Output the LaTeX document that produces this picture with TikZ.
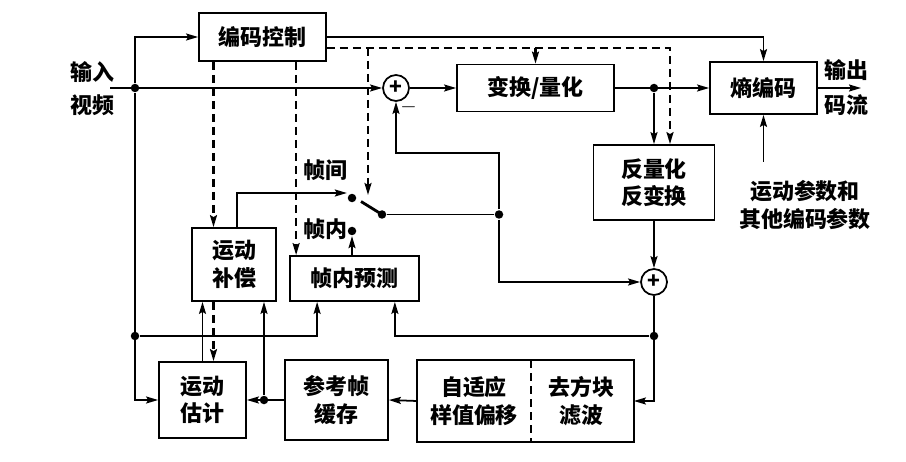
\documentclass[tikz,border=0pt]{standalone}
\usepackage{fontspec}
\setmainfont{Noto Sans CJK SC}
\usetikzlibrary{arrows.meta}

\begin{document}
\begin{tikzpicture}
        [box/.style={rectangle,draw,line width=1pt,inner sep=0pt,align=center},
        boxPlain/.style={rectangle,inner sep=0pt,align=center},
        sumNode/.style={circle,draw,line width=1pt,inner sep=0pt,minimum size=0.52cm,font=\fontsize{12}{12}\selectfont\bfseries},
        dotNode/.style={circle,fill,inner sep=0pt,minimum size=0.17cm},
        ctrlLine/.style={dash pattern=on 1.6mm off 1mm, line width=1.2pt},
        txt/.style={align=center},
        line width=1pt,
        >={Stealth[length=2.4mm,width=1.4mm,inset=0.4mm]},
        font=\fontsize{12.5}{15.5}\selectfont\bfseries]
        \useasboundingbox (0,0) rectangle (18.12,-9.24);

        % blocks
        \node[box, minimum width=2.54cm, minimum height=0.96cm] (ctrl) at (5.25,-0.74) {编码控制};
        \node[box, minimum width=3.14cm, minimum height=0.94cm] (tq) at (10.71,-1.76) {变换/量化};
        \node[box, minimum width=2.14cm, minimum height=1.04cm] (ent) at (15.27,-1.76) {熵编码};
        \node[box, minimum width=2.42cm, minimum height=1.50cm] (iq) at (13.08,-3.65) {反量化\\反变换};
        \node[box, minimum width=1.68cm, minimum height=1.46cm] (mc) at (4.68,-5.29) {运动\\补偿};
        \node[box, minimum width=2.58cm, minimum height=0.90cm] (ip) at (7.09,-5.57) {帧内预测};
        \node[box, minimum width=1.74cm, minimum height=1.52cm] (me) at (4.05,-8.00) {运动\\估计};
        \node[box, minimum width=2.06cm, minimum height=1.60cm] (buf) at (6.73,-8.00) {参考帧\\缓存};
        \node[boxPlain, minimum width=2.24cm, minimum height=1.60cm] (sao) at (9.48,-8.02) {自适应\\样值偏移};
        \node[boxPlain, minimum width=2.06cm, minimum height=1.60cm] (dbk) at (11.63,-8.02) {去方块\\滤波};
        \draw (sao.north west) rectangle (dbk.south east);
        \draw[ctrlLine] (sao.north east) -- (sao.south east);

        \node[sumNode] (add1) at (7.92,-1.76) {+};
        \node[sumNode] (add2) at (13.08,-5.64) {+};
        \node (minus) at (8.17,-2.14) {$-$};

        % junctions and switch
        \node[dotNode] (jin) at (2.70,-1.76) {};
        \node[dotNode] (jleft) at (2.70,-6.72) {};
        \node[dotNode] (jtq) at (13.08,-1.76) {};
        \node[dotNode] (jsw) at (9.98,-4.29) {};
        \node[dotNode] (jbuf) at (5.28,-8.00) {};
        \node[dotNode] (jrec) at (13.08,-6.72) {};
        \node[dotNode] (pivot) at (7.64,-4.29) {};
        \node[dotNode] (inter) at (7.04,-3.96) {};
        \node[dotNode] (intra) at (7.04,-4.62) {};
        \coordinate (src) at (2.20,-1.76);
        \coordinate (dst) at (17.22,-1.76);
        \coordinate (par) at (15.27,-3.24);
        \coordinate (blade) at (7.22,-4.03);
        \coordinate (swsel) at (7.36,-3.90);
        \coordinate (fb) at (9.98,-3.06);
        \coordinate (ctl) at ([yshift=-0.22cm]ctrl.east);

        % texts
        \node[txt] (lin) at (1.84,-1.78) {输入\\[0.12cm]视频};
        \node[txt] (lout) at (16.92,-1.75) {输出\\[0.17cm]码流};
        \node[txt] (lpar) at (16.10,-4.10) {运动参数和\\其他编码参数};
        \node (linter) at (6.50,-3.40) {帧间};
        \node (lintra) at (6.50,-4.58) {帧内};

        % forward path
        \draw[->] (src) -- (add1);
        \draw[->] (jin) |- (ctrl.west);
        \draw[->] (jin) |- (me.west);
        \draw[->] (add1) -- (tq);
        \draw[->] (tq) -- (ent);
        \draw[->] (jtq) -- (iq.north);
        \draw[->] (ent) -- (dst);
        \draw[->] (par) -- (ent.south);
        \draw[->] (ctrl.east) -| (ent.north);

        % control (dashed)
        \draw[ctrlLine, ->] (ctl) -| ([xshift=0.32cm]iq.north);
        \draw[ctrlLine, ->] (tq.north |- ctl) -- (tq.north);
        \draw[ctrlLine, ->] (swsel |- ctl) -- (swsel);
        \draw[ctrlLine, ->] ([xshift=-0.41cm]mc.north |- ctrl.south) -- ([xshift=-0.41cm]mc.north);
        \draw[ctrlLine, ->] ([xshift=0.14cm]ip.north west |- ctrl.south) -- ([xshift=0.14cm]ip.north west);
        \draw[ctrlLine, ->] ([xshift=0.22cm]me.north |- mc.south) -- ([xshift=0.22cm]me.north);

        % reconstruction loop
        \draw[->] (iq) -- (add2);
        \draw[->] (add2.south) |- (dbk.east);
        \draw[->] (jrec) -| ([xshift=-0.5cm]ip.south east);
        \draw[->] (jleft) -| ([xshift=0.56cm]ip.south west);
        \draw[->] (sao.west) -- (buf.east);
        \draw[->] (buf) -- (me);
        \draw[->] (jbuf) -- (jbuf |- mc.south);
        \draw[->] (me.north) -- (me.north |- mc.south);

        % prediction and switch
        \draw[->] ([xshift=0.06cm]mc.north) |- ([yshift=0.1cm]inter.west);
        \draw[->] (intra |- ip.north) -- (intra);
        \draw[line width=1.6pt] (pivot.center) -- (blade);
        \draw (pivot) -- (jsw);
        \draw[->] (jsw) -- (fb) -| (add1.south);
        \draw[->] (jsw) |- (add2.west);
\end{tikzpicture}
\end{document}
